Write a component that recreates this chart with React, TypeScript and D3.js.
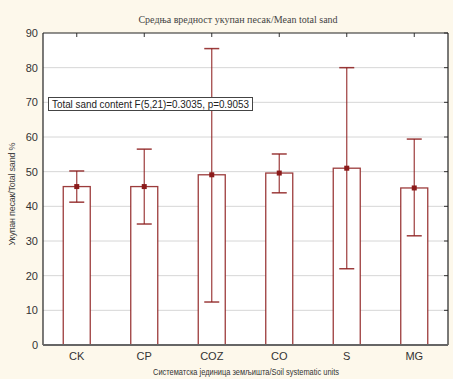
import React from "react";
import * as d3 from "d3";

const categories = ["CK", "CP", "COZ", "CO", "S", "MG"];
const means = [45.7, 45.7, 49.1, 49.6, 51.0, 45.3];
const upper = [50.2, 56.5, 85.5, 55.1, 80.0, 59.4];
const lower = [41.2, 34.9, 12.4, 43.9, 22.0, 31.5];
const yTicks = [0, 10, 20, 30, 40, 50, 60, 70, 80, 90];

const W = 453, H = 379;
const L = 43, R = 448, T = 33, B = 345;
const RED = "#8b1a1a";

export default function App() {
  const x = d3.scaleBand<string>().domain(categories).range([L, R]).padding(0);
  const y = d3.scaleLinear().domain([0, 90]).range([B, T]);
  const bw = x.bandwidth() * 0.4;
  const cap = 15;
  return (
    <svg width={W} height={H} style={{ position: "absolute", left: 0, top: 0 }}>
      <rect x={0} y={0} width={W} height={H} fill="#fdf8eb" />
      <rect x={L} y={T} width={R - L} height={B - T} fill="#ffffff" />
      {yTicks.map((t) => (
        <g key={t}>
          {t > 0 && t < 90 && (
            <line x1={L} x2={R} y1={y(t)} y2={y(t)} stroke="#d6d6d6" strokeWidth={1} />
          )}
          <line x1={R - 4} x2={R} y1={y(t)} y2={y(t)} stroke="#333" />
          <text x={38} y={y(t)} dy="0.35em" textAnchor="end" fontFamily="Liberation Sans, Arial" fontSize={11} fill="#333">
            {t}
          </text>
        </g>
      ))}
      {categories.map((c, i) => {
        const cx = x(c)! + x.bandwidth() / 2;
        return (
          <g key={c}>
            <line x1={cx} x2={cx} y1={T} y2={T + 4} stroke="#333" />
            <line x1={cx} x2={cx} y1={B} y2={B - 4} stroke="#333" />
            <rect x={cx - bw / 2} y={y(means[i])} width={bw} height={B - y(means[i])} fill="#fff" stroke={RED} strokeWidth={1.3} strokeOpacity={0.85} />
            <line x1={cx} x2={cx} y1={y(upper[i])} y2={y(lower[i])} stroke={RED} strokeWidth={1.2} strokeOpacity={0.85} />
            <line x1={cx - cap / 2} x2={cx + cap / 2} y1={y(upper[i])} y2={y(upper[i])} stroke={RED} strokeWidth={1.5} strokeOpacity={0.85} />
            <line x1={cx - cap / 2} x2={cx + cap / 2} y1={y(lower[i])} y2={y(lower[i])} stroke={RED} strokeWidth={1.5} strokeOpacity={0.85} />
            <rect x={cx - 2.5} y={y(means[i]) - 2.5} width={5} height={5} fill={RED} />
            <text x={cx} y={B + 15} textAnchor="middle" fontFamily="Liberation Sans, Arial" fontSize={11} fill="#333">
              {c}
            </text>
          </g>
        );
      })}
      <line x1={L} x2={R} y1={T} y2={T} stroke="#222" strokeWidth={1.2} />
      <line x1={R} x2={R} y1={T} y2={B} stroke="#222" strokeWidth={1.2} />
      <line x1={L} x2={L} y1={T} y2={B} stroke="#222" strokeWidth={1.2} />
      <line x1={L} x2={R} y1={B} y2={B} stroke="#666" strokeWidth={2} />
      <rect x={48.5} y={97.5} width={204} height={13} fill="#fff" stroke="#444" strokeWidth={1} />
      <text x={52} y={107.5} fontFamily="Liberation Sans, Arial" fontSize={10} fill="#222" textLength={197} lengthAdjust="spacingAndGlyphs">
        Total sand content F(5,21)=0.3035, p=0.9053
      </text>
      <text x={238} y={23} textAnchor="middle" fontFamily="Liberation Serif, Times New Roman" fontSize={10} fill="#444">
        Средња вредност укупан песак/Mean total sand
      </text>
      <text transform={`translate(15,194) rotate(-90)`} textAnchor="middle" fontFamily="Liberation Sans, Arial" fontSize={9} fill="#444" textLength={103} lengthAdjust="spacing">
        Укупан песак/Total sand %
      </text>
      <text x={153} y={375} fontSize={9} fill="#333" fontFamily="Liberation Sans, Arial" textLength={186} lengthAdjust="spacingAndGlyphs">
        Систематска јединица земљишта/Soil systematic units
      </text>
    </svg>
  );
}
